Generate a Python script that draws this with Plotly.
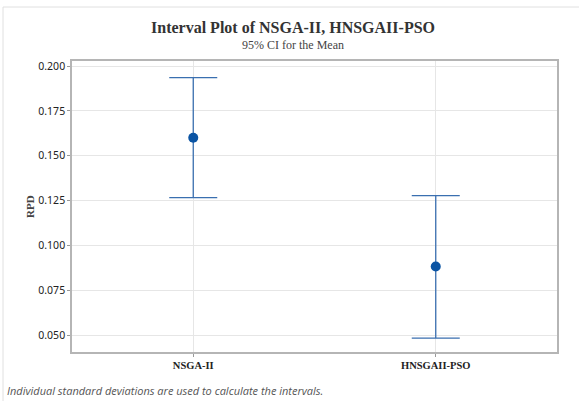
import plotly.graph_objects as go

categories = ["NSGA-II", "HNSGAII-PSO"]
means = [0.160, 0.0883]
upper = [0.1935, 0.1278]
lower = [0.1267, 0.0483]
y_ticks = [0.050, 0.075, 0.100, 0.125, 0.150, 0.175, 0.200]

err_plus = [u - m for u, m in zip(upper, means)]
err_minus = [m - l for m, l in zip(means, lower)]

W, H = 579, 401
L, R, T, B = 72, 22, 61, 49
pw, ph = W - L - R, H - T - B

def px(x):
    return (x - L) / pw

def py(y):
    return (H - B - y) / ph

SERIF = "Liberation Serif, Times New Roman, serif"

fig = go.Figure()
fig.add_trace(go.Scatter(
    x=categories, y=means, mode="markers",
    marker=dict(color="#0a54a4", size=10),
    error_y=dict(type="data", symmetric=False, array=err_plus, arrayminus=err_minus,
                 color="#3a6fb0", thickness=1.3, width=24),
    showlegend=False,
))

fig.update_layout(
    width=W, height=H,
    margin=dict(l=L, r=R, t=T, b=B),
    paper_bgcolor="white", plot_bgcolor="white",
    xaxis=dict(
        type="category", range=[-0.5, 1.5],
        showgrid=True, gridcolor="#e6e6e6", gridwidth=1,
        showline=True, linecolor="#b5b5b5", linewidth=1.5, mirror=True,
        ticks="outside", ticklen=3, tickcolor="#999",
        tickfont=dict(family=SERIF, size=10.5, color="#222"),
        tickprefix="<b>", ticksuffix="</b>",
        zeroline=False,
    ),
    yaxis=dict(
        range=[0.0406, 0.2028],
        tickvals=y_ticks, ticktext=[f"{v:.3f}" for v in y_ticks],
        showgrid=True, gridcolor="#e6e6e6", gridwidth=1,
        showline=True, linecolor="#b5b5b5", linewidth=1.5, mirror=True,
        ticks="outside", ticklen=3, tickcolor="#999",
        tickfont=dict(family="Noto Sans, Open Sans, sans-serif", size=10.5, color="#222"),
        zeroline=False,
    ),
    annotations=[
        dict(text="<b>Interval Plot of NSGA-II, HNSGAII-PSO</b>",
             xref="paper", yref="paper", x=px(293), y=py(28), xanchor="center", yanchor="middle",
             showarrow=False, font=dict(family=SERIF, size=16, color="#333")),
        dict(text="95% CI for the Mean",
             xref="paper", yref="paper", x=px(293), y=py(45), xanchor="center", yanchor="middle",
             showarrow=False, font=dict(family=SERIF, size=12, color="#444")),
        dict(text="<b>RPD</b>", textangle=-90,
             xref="paper", yref="paper", x=px(30), y=py(207), xanchor="center", yanchor="middle",
             showarrow=False, font=dict(family=SERIF, size=11, color="#444")),
        dict(text="<i>Individual standard deviations are used to calculate the intervals.</i>",
             xref="paper", yref="paper", x=px(5), y=py(390), xanchor="left", yanchor="middle",
             showarrow=False,
             font=dict(family="Open Sans, Noto Sans, sans-serif", size=11, color="#555")),
    ],
    shapes=[
        dict(type="rect", xref="paper", yref="paper",
             x0=px(3), x1=px(580), y0=py(403), y1=py(7),
             line=dict(color="#e0e0e0", width=1), fillcolor="rgba(0,0,0,0)", layer="below"),
    ],
)

fig.write_html("out.html")
